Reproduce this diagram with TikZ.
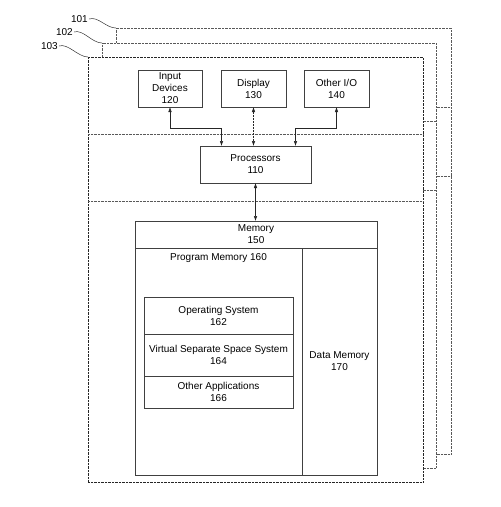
\documentclass[tikz,border=0pt]{standalone}
\usepackage{fontspec}
\setmainfont{Liberation Sans}
\usetikzlibrary{positioning,arrows.meta}

\begin{document}
\begin{tikzpicture}[x=1pt, y=-1pt,
  font=\fontsize{10}{12}\selectfont,
  sheet/.style={draw=black!65, densely dotted, fill=white, anchor=north west, inner sep=0pt, outer sep=0pt},
  rule/.style={draw=black!65, densely dotted},
  part/.style={draw=black!75, align=center, inner sep=0pt, outer sep=0pt},
  tag/.style={anchor=east, inner sep=1pt},
  leader/.style={black!80, line width=0.5pt},
  arrow/.style={{Latex[length=5pt,width=3.5pt]}-{Latex[length=5pt,width=3.5pt]}, black!85, line width=0.5pt}
]
\useasboundingbox (0,0) rectangle (501,507);

% stacked sheets
\node[sheet, minimum width=335pt, minimum height=426pt] (f101) at (116,28) {};
\draw[rule] (f101.west |- 0,107) -- (f101.east |- 0,107);
\draw[rule] (f101.west |- 0,176) -- (f101.east |- 0,176);
\node[sheet, minimum width=334pt, minimum height=425pt] (f102) at (102,43) {};
\draw[rule] (f102.west |- 0,121) -- (f102.east |- 0,121);
\draw[rule] (f102.west |- 0,190) -- (f102.east |- 0,190);
\node[sheet, draw=black!85, minimum width=335pt, minimum height=425pt] (f103) at (88,57) {};
\draw[rule] (f103.west |- 0,134) -- (f103.east |- 0,134);
\draw[rule] (f103.west |- 0,201) -- (f103.east |- 0,201);

\node[tag] (t101) at (89,19) {101};
\node[tag] (t102) at (74,32) {102};
\node[tag] (t103) at (59,46) {103};
\draw[leader] (t101.east) .. controls +(9,-3) and +(-10,0) .. (f101.north west);
\draw[leader] (t102.east) .. controls +(9,-3) and +(-10,0) .. (f102.north west);
\draw[leader] (t103.east) .. controls +(9,-3) and +(-10,0) .. (f103.north west);

% i/o and processors
\node[part, minimum width=64pt, minimum height=37pt] (in120) at (170,88.5) {Input\\Devices\\120};
\node[part, minimum width=65pt, minimum height=37pt] (dis130) at (253.5,88.5) {Display\\130};
\node[part, minimum width=65pt, minimum height=37pt] (io140) at (336.5,88.5) {Other I/O\\140};
\node[part, minimum width=111pt, minimum height=37pt] (proc) at (255.5,164.5) {Processors\\110};

% memory
\node[part, minimum width=242pt, minimum height=27pt] (mem150) at (256,234.5) {Memory\\150};
\node[part, anchor=north west, minimum width=167pt, minimum height=227pt] (pm160) at (135,248) {};
\node[anchor=north, inner sep=0pt] (pm160t) at ([yshift=-5pt]pm160.north) {Program Memory 160};
\node[part, right=0pt of pm160, minimum width=75pt, minimum height=227pt] (dm170) {Data Memory\\170};
\node[part, anchor=north west, minimum width=149pt, minimum height=37pt] (os162) at (144,297) {Operating System\\162};
\node[part, below=0pt of os162, minimum width=149pt, minimum height=42pt] (vss164) {Virtual Separate Space System\\164};
\node[part, below=0pt of vss164, minimum width=149pt, minimum height=32pt] (oa166) {Other Applications\\166};

\draw[arrow] (in120.south) |- ([xshift=-34pt,yshift=18pt]proc.north) -- ([xshift=-34pt]proc.north);
\draw[arrow, densely dotted] (dis130.south) -- (dis130.south |- proc.north);
\draw[arrow] (io140.south) |- ([xshift=40pt,yshift=18pt]proc.north) -- ([xshift=40pt]proc.north);
\draw[arrow] (proc.south) -- (proc.south |- mem150.north);
\end{tikzpicture}
\end{document}
